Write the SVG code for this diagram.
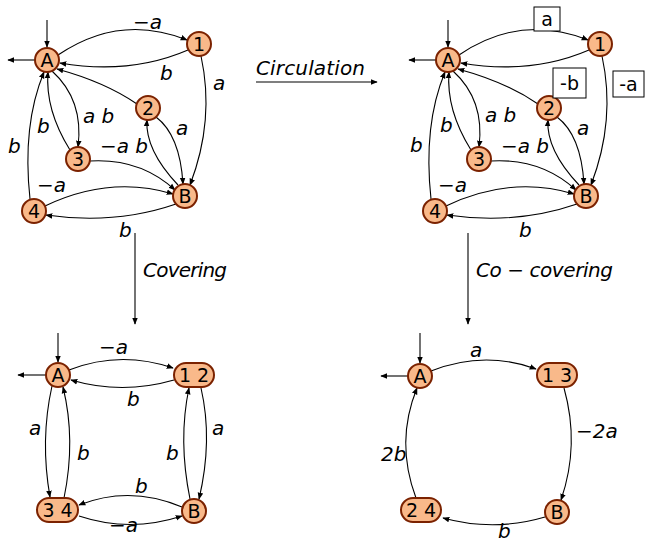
<svg xmlns="http://www.w3.org/2000/svg" width="645" height="543" viewBox="0 0 645 543">
  <defs>
    <marker id="arr" viewBox="0 0 10 10" refX="9" refY="5" markerWidth="7" markerHeight="7" markerUnits="userSpaceOnUse" orient="auto">
      <path d="M0,1 L10,5 L0,9 z" fill="#000"/>
    </marker>
    <style>
      .st { fill: #F9B98A; stroke: #7B2200; stroke-width: 2; }
      .nl { font-family: "DejaVu Sans", sans-serif; font-size: 19px; fill: #000; text-anchor: middle; }
      .el { font-family: "DejaVu Sans", sans-serif; font-size: 20px; font-style: italic; fill: #000; }
      .cap { font-family: "DejaVu Sans", sans-serif; font-size: 20px; font-style: italic; fill: #000; }
      .bx { fill: #fff; stroke: #000; stroke-width: 1; }
      .bl { font-family: "DejaVu Sans", sans-serif; font-size: 19px; fill: #000; text-anchor: middle; }
      .cn path, .cn line { fill: none; stroke: #000; stroke-width: 1.1; marker-end: url(#arr); }
    </style>
  </defs>
  <rect width="645" height="543" fill="#fff"/>

  <!-- connectors -->
  <g id="connectors" class="cn">
    <!-- top-left graph -->
    <line x1="47" y1="20" x2="47" y2="47"/>
    <line x1="35" y1="60" x2="8" y2="60"/>
    <path d="M58,55 Q120,13 187,40"/>
    <path d="M188,50 Q130,75 60,63"/>
    <path d="M201,56 Q215,120 190,185"/>
    <path d="M137,104 Q105,82 57,69"/>
    <path d="M52,71 Q84,100 78,147"/>
    <path d="M70,150 Q45,110 48,72"/>
    <path d="M156,117 Q180,135 183,184"/>
    <path d="M178,185 Q145,150 147,120"/>
    <path d="M90,161 Q140,158 175,190"/>
    <path d="M30,199 Q22,125 44,72"/>
    <path d="M45,206 Q110,175 173,194"/>
    <path d="M176,204 Q115,225 46,215"/>
    <!-- top-right graph -->
    <g transform="translate(401,0)">
      <line x1="47" y1="20" x2="47" y2="47"/>
      <line x1="35" y1="60" x2="8" y2="60"/>
      <path d="M58,55 Q120,13 187,40"/>
      <path d="M188,50 Q130,75 60,63"/>
      <path d="M201,56 Q215,120 190,185"/>
      <path d="M137,104 Q105,82 57,69"/>
      <path d="M52,71 Q84,100 78,147"/>
      <path d="M70,150 Q45,110 48,72"/>
      <path d="M156,117 Q180,135 183,184"/>
      <path d="M178,185 Q145,150 147,120"/>
      <path d="M90,161 Q140,158 175,190"/>
      <path d="M30,199 Q22,125 44,72"/>
      <path d="M45,206 Q110,175 173,194"/>
      <path d="M176,204 Q115,225 46,215"/>
    </g>
    <!-- transformation arrows -->
    <line x1="256" y1="82" x2="377" y2="82"/>
    <line x1="135" y1="233" x2="135" y2="324"/>
    <line x1="468" y1="233" x2="468" y2="324"/>
    <!-- bottom-left graph -->
    <line x1="58" y1="333" x2="58" y2="362"/>
    <line x1="46" y1="375" x2="18" y2="375"/>
    <path d="M69,370 Q120,350 173,368"/>
    <path d="M174,380 Q122,395 71,380"/>
    <path d="M52,386 Q40,440 50,497"/>
    <path d="M64,498 Q76,440 63,387"/>
    <path d="M201,388 Q213,440 199,499"/>
    <path d="M190,499 Q178,440 189,388"/>
    <path d="M182,507 Q130,485 79,505"/>
    <path d="M79,516 Q130,533 182,516"/>
    <!-- bottom-right graph -->
    <line x1="420" y1="333" x2="420" y2="363"/>
    <line x1="408" y1="376" x2="381" y2="376"/>
    <path d="M431,371 Q484,350 536,369"/>
    <path d="M564,388 Q580,445 561,500"/>
    <path d="M545,517 Q494,532 443,518"/>
    <path d="M416,498 Q395,442 417,388"/>
  </g>

  <!-- top-left graph nodes -->
  <g id="tl-A"><circle class="st" cx="47" cy="60" r="12"/><text class="nl" x="47" y="67">A</text></g>
  <g id="tl-1"><circle class="st" cx="199" cy="44" r="12"/><text class="nl" x="199" y="51">1</text></g>
  <g id="tl-2"><circle class="st" cx="148" cy="108" r="12"/><text class="nl" x="148" y="115">2</text></g>
  <g id="tl-3"><circle class="st" cx="78" cy="159" r="12"/><text class="nl" x="78" y="166">3</text></g>
  <g id="tl-B"><circle class="st" cx="185" cy="196" r="12"/><text class="nl" x="185" y="203">B</text></g>
  <g id="tl-4"><circle class="st" cx="34" cy="211" r="12"/><text class="nl" x="34" y="218">4</text></g>

  <!-- top-left labels -->
  <g id="tl-labels">
    <text class="el" x="133" y="29">−a</text>
    <text class="el" x="160" y="80">b</text>
    <text class="el" x="213" y="90">a</text>
    <text class="el" x="83" y="123">a b</text>
    <text class="el" x="37" y="133">b</text>
    <text class="el" x="176" y="135">a</text>
    <text class="el" x="100" y="153">−a b</text>
    <text class="el" x="8" y="153">b</text>
    <text class="el" x="37" y="192">−a</text>
    <text class="el" x="119" y="237">b</text>
  </g>

  <!-- top-right graph nodes -->
  <g id="tr-A"><circle class="st" cx="448" cy="60" r="12"/><text class="nl" x="448" y="67">A</text></g>
  <g id="tr-1"><circle class="st" cx="600" cy="44" r="12"/><text class="nl" x="600" y="51">1</text></g>
  <g id="tr-2"><circle class="st" cx="549" cy="108" r="12"/><text class="nl" x="549" y="115">2</text></g>
  <g id="tr-3"><circle class="st" cx="479" cy="159" r="12"/><text class="nl" x="479" y="166">3</text></g>
  <g id="tr-B"><circle class="st" cx="586" cy="196" r="12"/><text class="nl" x="586" y="203">B</text></g>
  <g id="tr-4"><circle class="st" cx="435" cy="211" r="12"/><text class="nl" x="435" y="218">4</text></g>

  <!-- top-right labels -->
  <g id="tr-labels">
    <rect class="bx" x="534" y="7" width="26" height="24"/><text class="bl" x="547" y="26">a</text>
    <rect class="bx" x="553" y="68" width="33" height="30"/><text class="bl" x="569.5" y="90">-b</text>
    <rect class="bx" x="613" y="71" width="31" height="26"/><text class="bl" x="628.5" y="91">-a</text>
    <text class="el" x="485" y="122">a b</text>
    <text class="el" x="440" y="132">b</text>
    <text class="el" x="577" y="135">a</text>
    <text class="el" x="501" y="153">−a b</text>
    <text class="el" x="410" y="152">b</text>
    <text class="el" x="438" y="192">−a</text>
    <text class="el" x="519" y="237">b</text>
  </g>

  <!-- transformation captions -->
  <g id="captions">
    <text class="cap" x="256" y="75" textLength="109">Circulation</text>
    <text class="cap" x="143" y="277" textLength="84">Covering</text>
    <text class="cap" x="476" y="277" textLength="137">Co − covering</text>
  </g>

  <!-- bottom-left graph nodes -->
  <g id="bl-A"><circle class="st" cx="58" cy="375" r="12"/><text class="nl" x="58" y="382">A</text></g>
  <g id="bl-12"><rect class="st" x="174" y="363" width="40" height="24" rx="12"/><text class="nl" x="194" y="382">1 2</text></g>
  <g id="bl-34"><rect class="st" x="37" y="498" width="41" height="24" rx="12"/><text class="nl" x="57.5" y="517">3 4</text></g>
  <g id="bl-B"><circle class="st" cx="194" cy="511" r="12"/><text class="nl" x="194" y="518">B</text></g>

  <g id="bl-labels">
    <text class="el" x="99" y="354">−a</text>
    <text class="el" x="127" y="406">b</text>
    <text class="el" x="29" y="435">a</text>
    <text class="el" x="77" y="460">b</text>
    <text class="el" x="212" y="435">a</text>
    <text class="el" x="166" y="460">b</text>
    <text class="el" x="135" y="493">b</text>
    <text class="el" x="109" y="532">−a</text>
  </g>

  <!-- bottom-right graph nodes -->
  <g id="br-A"><circle class="st" cx="420" cy="376" r="12"/><text class="nl" x="420" y="383">A</text></g>
  <g id="br-13"><rect class="st" x="537" y="363" width="40" height="24" rx="12"/><text class="nl" x="557" y="382">1 3</text></g>
  <g id="br-B"><circle class="st" cx="557" cy="512" r="12"/><text class="nl" x="557" y="519">B</text></g>
  <g id="br-24"><rect class="st" x="401" y="498" width="40" height="24" rx="12"/><text class="nl" x="421" y="517">2 4</text></g>

  <g id="br-labels">
    <text class="el" x="470" y="357">a</text>
    <text class="el" x="576" y="438">−2a</text>
    <text class="el" x="498" y="538">b</text>
    <text class="el" x="381" y="461">2b</text>
  </g>
</svg>
